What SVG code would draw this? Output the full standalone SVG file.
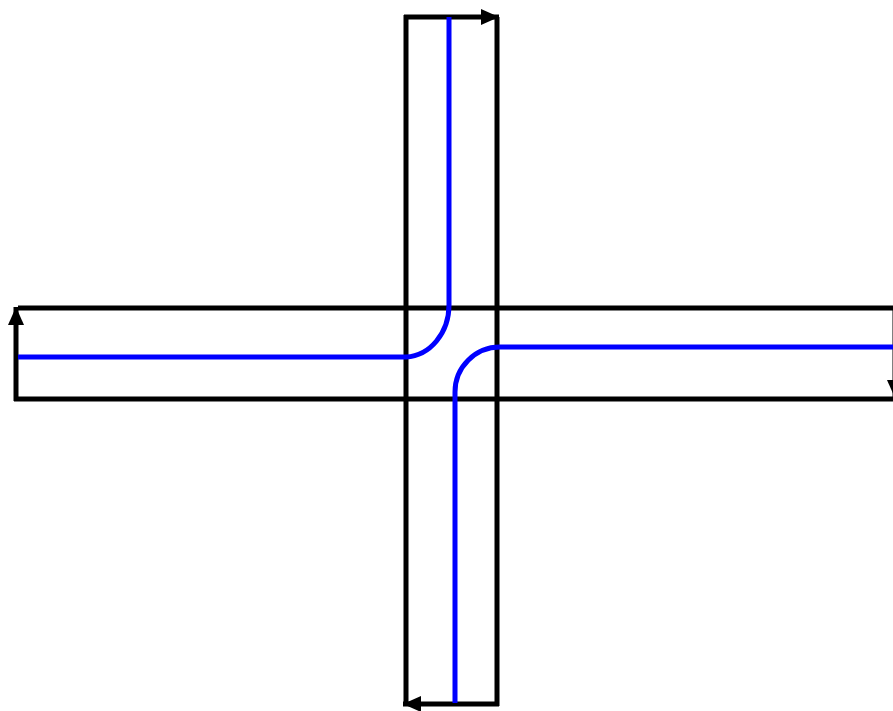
<svg xmlns="http://www.w3.org/2000/svg" width="893" height="711" viewBox="0 0 893 711">
<style>
.road{stroke:#000;stroke-width:5;fill:none}
.lane{stroke:#0000ff;stroke-width:5;fill:none}
.arr{stroke:#000;stroke-width:5;fill:none;marker-end:url(#ah)}
</style>
<defs>
<marker id="ah" markerUnits="userSpaceOnUse" markerWidth="20" markerHeight="16" refX="18" refY="8" orient="auto">
<path d="M0,0 L18,8 L0,16 Z" fill="#000"/>
</marker>
</defs>
<g id="roads">
<line class="road" x1="406" y1="15" x2="406" y2="706"/>
<line class="road" x1="497" y1="17" x2="497" y2="706"/>
<line class="road" x1="18" y1="308" x2="893" y2="308"/>
<line class="road" x1="14" y1="399" x2="893" y2="399"/>
</g>
<g id="connectors">
<line class="arr" x1="404" y1="17" x2="499" y2="17"/>
<line class="arr" x1="16" y1="401" x2="16" y2="307"/>
<line class="arr" x1="895" y1="306" x2="895" y2="398"/>
<line class="arr" x1="499" y1="704" x2="403" y2="704"/>
<path class="lane" d="M449,17 L449,305 A45,52 0 0 1 406,357 L18,357"/>
<path class="lane" d="M893,347 L500,347 A45,45 0 0 0 455,392 L455,703"/>
</g>
</svg>
